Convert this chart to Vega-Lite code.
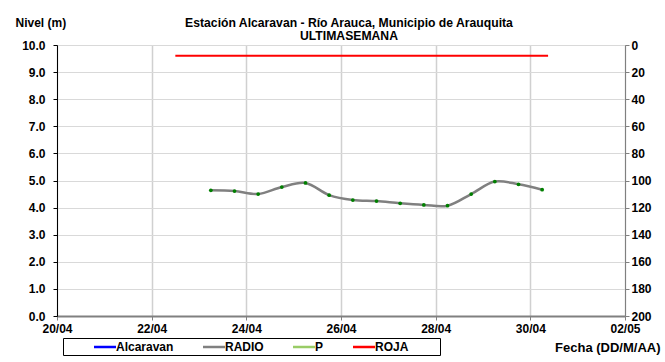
{
  "$schema": "https://vega.github.io/schema/vega-lite/v6.json",
  "width": 568,
  "height": 271,
  "autosize": {"type": "none"},
  "padding": {"left": 57, "top": 45, "right": 40, "bottom": 46},
  "background": "white",
  "config": {
    "font": "Liberation Sans",
    "view": {"stroke": "#a6a6a6", "strokeWidth": 1},
    "axis": {
      "labelFont": "Liberation Sans",
      "labelFontWeight": "bold",
      "labelFontSize": 12,
      "labelColor": "black",
      "titleFont": "Liberation Sans",
      "titleFontWeight": "bold",
      "titleFontSize": 12,
      "titleColor": "black",
      "gridColor": "#d9d9d9",
      "tickColor": "#404040",
      "tickSize": 4
    }
  },
  "title": {
    "text": ["Estación Alcaravan - Río Arauca, Municipio de Arauquita", "ULTIMASEMANA"],
    "font": "Liberation Sans",
    "fontSize": 12.2,
    "fontWeight": "bold",
    "color": "black",
    "anchor": "middle",
    "dx": 8,
    "dy": 32,
    "offset": 6,
    "lineHeight": 12.5
  },
  "datasets": {
    "radio": [
      {"fecha": "2015-04-23T06:00:00", "nivel": 4.64, "serie": "RADIO"},
      {"fecha": "2015-04-23T18:00:00", "nivel": 4.61, "serie": "RADIO"},
      {"fecha": "2015-04-24T06:00:00", "nivel": 4.50, "serie": "RADIO"},
      {"fecha": "2015-04-24T18:00:00", "nivel": 4.76, "serie": "RADIO"},
      {"fecha": "2015-04-25T06:00:00", "nivel": 4.91, "serie": "RADIO"},
      {"fecha": "2015-04-25T18:00:00", "nivel": 4.46, "serie": "RADIO"},
      {"fecha": "2015-04-26T06:00:00", "nivel": 4.28, "serie": "RADIO"},
      {"fecha": "2015-04-26T18:00:00", "nivel": 4.24, "serie": "RADIO"},
      {"fecha": "2015-04-27T06:00:00", "nivel": 4.16, "serie": "RADIO"},
      {"fecha": "2015-04-27T18:00:00", "nivel": 4.10, "serie": "RADIO"},
      {"fecha": "2015-04-28T06:00:00", "nivel": 4.07, "serie": "RADIO"},
      {"fecha": "2015-04-28T18:00:00", "nivel": 4.50, "serie": "RADIO"},
      {"fecha": "2015-04-29T06:00:00", "nivel": 4.96, "serie": "RADIO"},
      {"fecha": "2015-04-29T18:00:00", "nivel": 4.86, "serie": "RADIO"},
      {"fecha": "2015-04-30T06:00:00", "nivel": 4.66, "serie": "RADIO"}
    ],
    "roja": [
      {"fecha": "2015-04-22T12:00:00", "nivel": 9.6, "serie": "ROJA"},
      {"fecha": "2015-04-30T09:00:00", "nivel": 9.6, "serie": "ROJA"}
    ]
  },
  "encoding": {
    "x": {
      "field": "fecha",
      "type": "temporal",
      "scale": {"domain": [{"year": 2015, "month": 4, "date": 20}, {"year": 2015, "month": 5, "date": 2}]},
      "axis": {
        "title": "Fecha (DD/M/AA)",
        "values": [
          {"year": 2015, "month": 4, "date": 20},
          {"year": 2015, "month": 4, "date": 22},
          {"year": 2015, "month": 4, "date": 24},
          {"year": 2015, "month": 4, "date": 26},
          {"year": 2015, "month": 4, "date": 28},
          {"year": 2015, "month": 4, "date": 30},
          {"year": 2015, "month": 5, "date": 2}
        ],
        "format": "%d/%m",
        "labelFlush": false,
        "labelOverlap": false,
        "labelPadding": 3,
        "domainColor": "#808080",
        "domainWidth": 2,
        "tickColor": "#808080",
        "grid": true,
        "gridColor": "#d0d0d0",
        "gridWidth": 1.5,
        "titleFontSize": 13,
        "titleX": 603,
        "titleY": 31,
        "titleAlign": "right",
        "titleBaseline": "middle"
      }
    }
  },
  "layer": [
    {
      "data": {"name": "roja"},
      "mark": {"type": "line", "strokeWidth": 2},
      "encoding": {
        "y": {
          "field": "nivel",
          "type": "quantitative",
          "scale": {"domain": [0, 10], "nice": false, "zero": true},
          "axis": {
            "title": "Nivel (m)",
            "values": [0, 1, 2, 3, 4, 5, 6, 7, 8, 9, 10],
            "format": ".1f",
            "titleAngle": 0,
            "titleX": -42,
            "titleY": -23,
            "titleAlign": "left",
            "titleBaseline": "middle",
            "domainColor": "black",
            "tickColor": "black",
            "labelPadding": 8,
            "grid": true
          }
        },
        "color": {
          "field": "serie",
          "type": "nominal",
          "scale": {"domain": ["Alcaravan", "RADIO", "P", "ROJA"], "range": ["#0000ff", "#808080", "#99cc66", "#ff0000"]},
          "legend": {
            "title": "\u00a0",
            "titleOrient": "right",
            "titlePadding": 30,
            "titleFontSize": 12,
            "orient": "none",
            "legendX": 6,
            "legendY": 293,
            "direction": "horizontal",
            "symbolType": "M-2,0H2",
            "symbolStrokeWidth": 2.5,
            "symbolSize": 121,
            "labelFont": "Liberation Sans",
            "labelFontSize": 12,
            "labelFontWeight": "bold",
            "labelColor": "black",
            "strokeColor": "black",
            "padding": 2,
            "columnPadding": 0,
            "labelOffset": 4,
            "symbolOffset": 33
          }
        }
      }
    },
    {
      "data": {"name": "radio"},
      "mark": {"type": "line", "strokeWidth": 2.5, "interpolate": "catmull-rom"},
      "encoding": {
        "y": {
          "field": "nivel",
          "type": "quantitative",
          "axis": {
            "orient": "right",
            "title": null,
            "values": [0, 1, 2, 3, 4, 5, 6, 7, 8, 9, 10],
            "labelExpr": "format((10 - datum.value) * 20, 'd')",
            "grid": false,
            "domainColor": "#808080",
            "tickColor": "#808080",
            "labelPadding": 2
          }
        },
        "color": {"field": "serie", "type": "nominal"}
      }
    },
    {
      "data": {"name": "radio"},
      "mark": {"type": "point", "filled": true, "size": 14, "color": "#008000", "opacity": 1},
      "encoding": {
        "y": {"field": "nivel", "type": "quantitative", "axis": null}
      }
    }
  ],
  "resolve": {"axis": {"y": "independent"}}
}
